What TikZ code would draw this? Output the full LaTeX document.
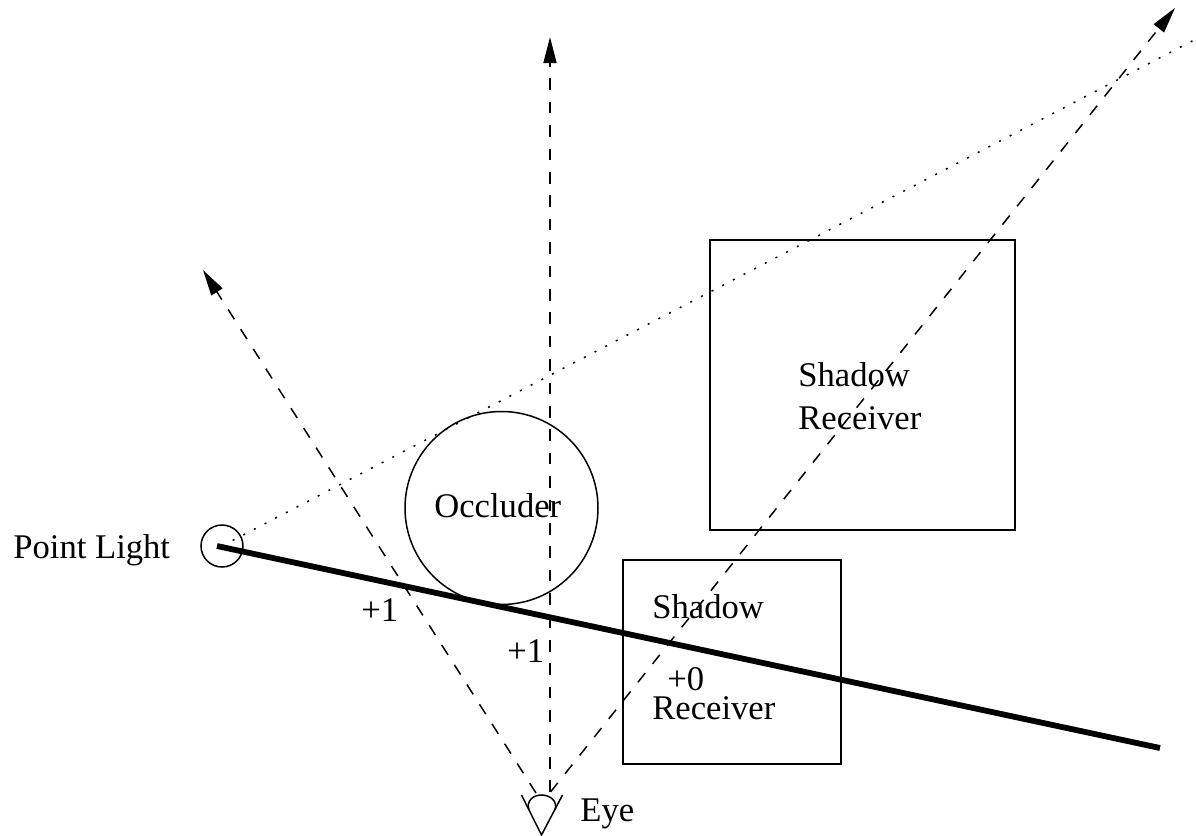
\documentclass[tikz,border=0pt]{standalone}
\usepackage{fontspec}
\setmainfont{Liberation Serif}
\usetikzlibrary{positioning,arrows.meta}

\begin{document}
\begin{tikzpicture}[
    x=0.5pt, y=-0.5pt,
    font=\fontsize{17.3}{21}\selectfont,
    label/.style={inner sep=0pt, anchor=base west},
    box/.style={draw, line width=0.75pt, rectangle, inner sep=0pt, outer sep=0pt, anchor=north west},
    ball/.style={draw, line width=0.75pt, circle, inner sep=0pt},
    ray/.style={-{Triangle[length=13pt,width=6.5pt]}, line width=0.75pt, dash pattern=on 5.8pt off 5.9pt},
    edge/.style={line width=0.75pt, dash pattern=on 1pt off 5pt},
    plane/.style={line width=2.9pt},
    eye/.style={line width=0.75pt},
  ]
    \useasboundingbox (0,0) rectangle (1196,836);

    % Shadow receivers
    \node[box, minimum width=152.5pt, minimum height=145pt] (farbox) at (710,240) {};
    \node[box, minimum width=109pt, minimum height=102pt] (nearbox) at (623,560) {};

    % Occluder and light
    \node[ball, minimum size=96.5pt] (occluder) at (501.5,508) {};
    \node[ball, minimum size=21pt] (light) at (222,546) {};

    % Eye
    \coordinate (eyetip) at (541.5,835);
    \coordinate (eyel) at (521.5,795);
    \coordinate (eyer) at (562.5,795);
    \draw[eye] (eyel) -- (eyetip) -- (eyer);
    \draw[eye] (529,810) .. controls (526,801) and (533,795) .. (541.5,795)
        .. controls (550,795) and (558,801) .. (555,810);

    % Ends of the rays
    \coordinate (eyeleft) at (536,793);
    \coordinate (eyemid) at (550,792);
    \coordinate (eyeright) at (550.5,792);
    \coordinate (topleft) at (203,270);
    \coordinate (topmid) at (550,37);
    \coordinate (topright) at (1175,8);
    \coordinate (edgeend) at (1196,39);
    \coordinate (planestart) at (217,546);
    \coordinate (planeend) at (1160,748);

    % Rays from the eye
    \draw[ray] (eyeleft) -- (topleft);
    \draw[ray] (eyemid) -- (topmid);
    \draw[ray] (eyeright) -- (topright);

    % Shadow edge and plane
    \draw[edge] (light.center) -- (edgeend);
    \draw[plane] (planestart) -- (planeend);

    % Labels
    \node[label] (lightlabel) at (13,558) {Point Light};
    \node[label] (occluderlabel) at (434,517) {Occluder};
    \node[label] (fartop) at (798,386) {Shadow};
    \node[label] (farbottom) at (798,429) {Receiver};
    \node[label] (neartop) at (652,618) {Shadow};
    \node[label] (nearbottom) at (652,719) {Receiver};
    \node[label] (countzero) at (667,690) {+0};
    \node[label] (countleft) at (361,621) {+1};
    \node[label] (countmid) at (507,662) {+1};
    \node[label] (eyelabel) at (580,821) {Eye};
\end{tikzpicture}
\end{document}
